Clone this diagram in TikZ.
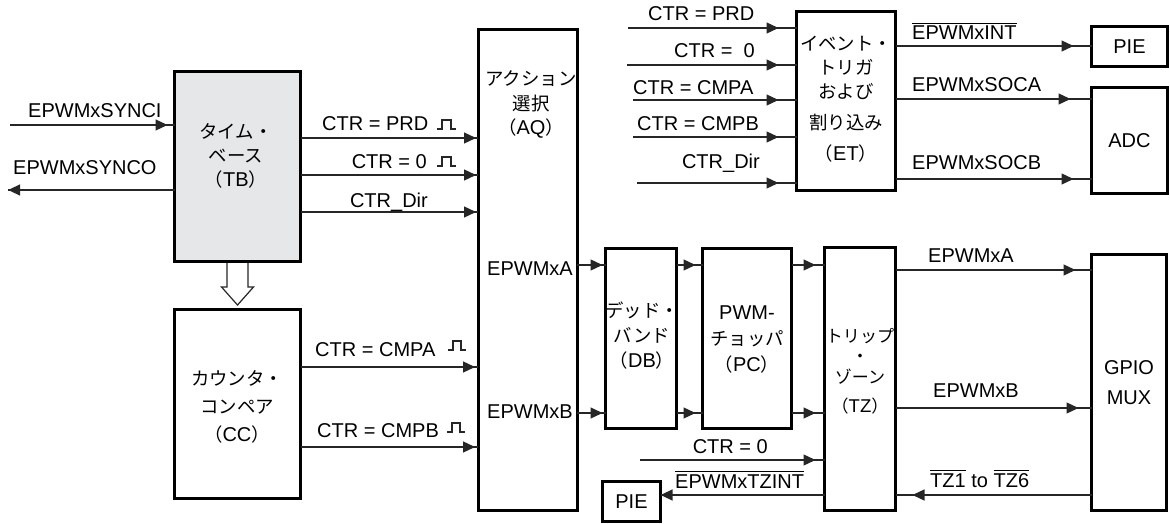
\documentclass[tikz,border=0pt]{standalone}
\usepackage{fontspec}
\setmainfont{Liberation Sans}
\newfontfamily\jp[Scale=0.92]{Noto Sans CJK JP}
\usetikzlibrary{arrows.meta,decorations.markings,calc}
\definecolor{tbgray}{HTML}{E6E7E8}
\newcommand\myovl[1]{\leavevmode\vbox{\hrule height 1pt\kern 2.5pt\hbox{#1}}}

\begin{document}
\begin{tikzpicture}[x=1pt,y=-1pt,
  box/.style={draw=black,line width=3pt,rectangle,inner sep=0pt,outer sep=0pt,font=\fontsize{20}{24}\selectfont},
  conn/.style={line width=1.3pt,draw=black!85},
  arr/.style={conn,postaction={decorate},decoration={markings,mark=at position -#1 with {\arrow{Triangle[length=12pt,width=11pt]}}}},
  arr/.default=1pt,
  lbl/.style={inner sep=0pt,font=\fontsize{20}{24}\selectfont},
  txt/.style={inner sep=0pt,align=center,font=\fontsize{20}{#1}\selectfont},
  pulse/.style={line width=1.2pt,draw=black!85},
]
\useasboundingbox (0,0) rectangle (1170,524);

% boxes
\node[box,fill=tbgray,minimum width=126,minimum height=190] (tb) at (237.5,166.5) {};
\node[box,minimum width=126,minimum height=189] (cc) at (237.5,404) {};
\node[box,minimum width=99,minimum height=481] (aq) at (527.5,270) {};
\node[box,minimum width=99,minimum height=179] (et) at (846,101) {};
\node[box,minimum width=76,minimum height=40] (pie1) at (1129.5,46.5) {PIE};
\node[box,minimum width=76,minimum height=106] (adc) at (1129.5,140.5) {ADC};
\node[box,minimum width=71,minimum height=180] (db) at (641,338.5) {};
\node[box,minimum width=89,minimum height=180] (pc) at (747,338.5) {};
\node[box,minimum width=71,minimum height=263] (tz) at (860,379) {};
\node[box,minimum width=58,minimum height=40] (pie2) at (631.5,501.5) {PIE};
\node[box,minimum width=75,minimum height=256] (gpio) at (1129,382.5) {};

% box texts
\node[txt=24] (tbt) at (236,156) {{\jp タイム・}\\{\jp ベース}\\{\jp （}TB{\jp ）}};
\node[txt=28] (cct) at (237,407) {{\jp カウンタ・}\\{\jp コンペア}\\{\jp （}CC{\jp ）}};
\node[txt=24.5] (aqt) at (531,104.5) {{\jp アクション}\\{\jp 選択}\\{\jp （}AQ{\jp ）}};
\node[txt=24] (ett) at (846,99) {{\jp イベント・}\\{\jp トリガ}\\{\jp および}\\[7pt]{\jp 割り込み}\\[7pt]{\jp （}ET{\jp ）}};
\node[txt=25] (dbt) at (642,336) {{\jp デッド・}\\{\jp バンド}\\{\jp （}DB{\jp ）}};
\node[txt=26] (pct) at (747,340) {PWM-\\{\jp チョッパ}\\{\jp （}PC{\jp ）}};
\node[txt=20.5,font=\fontsize{18.5}{20.5}\selectfont] (tzt) at (860,371) {{\jp トリップ}\\{\jp ・}\\{\jp ゾーン}\\[9pt]{\jp （}TZ{\jp ）}};
\node[txt=30] (gpiot) at (1129,383) {GPIO\\MUX};

% free ends
\coordinate (synci) at (10,125);
\coordinate (synco) at (8,190);
\coordinate (e1) at (628,28);
\coordinate (e2) at (627,65);
\coordinate (e3) at (633,100);
\coordinate (e4) at (633,137);
\coordinate (e5) at (637,183);
\coordinate (z0) at (640,460);

% connectors
\draw[arr=7pt] (synci) -- (tb.west |- synci);
\draw[arr=0.1pt] (tb.west |- synco) -- (synco);
\draw[arr=2pt] (tb.east |- 0,138) -- (aq.west |- 0,138);
\draw[arr=2pt] (tb.east |- 0,175) -- (aq.west |- 0,175);
\draw[arr=2pt] (tb.east |- 0,212) -- (aq.west |- 0,212);
\draw[arr=3pt] (cc.east |- 0,367) -- (aq.west |- 0,367);
\draw[arr=3pt] (cc.east |- 0,447) -- (aq.west |- 0,447);

\draw[arr=18pt] (e1) -- (et.west |- e1);
\draw[arr=18pt] (e2) -- (et.west |- e2);
\draw[arr=18pt] (e3) -- (et.west |- e3);
\draw[arr=18pt] (e4) -- (et.west |- e4);
\draw[arr=18pt] (e5) -- (et.west |- e5);
\draw[arr=18pt] (et.east |- 0,46) -- (pie1.west |- 0,46);
\draw[arr=21pt] (et.east |- 0,99) -- (adc.west |- 0,99);
\draw[arr=18pt] (et.east |- 0,179) -- (adc.west |- 0,179);

\draw[arr=3pt] (aq.east |- 0,265) -- (db.west |- 0,265);
\draw[arr=3pt] (aq.east |- 0,413) -- (db.west |- 0,413);
\draw[arr=7pt] (db.east |- 0,265) -- (pc.west |- 0,265);
\draw[arr=7pt] (db.east |- 0,413) -- (pc.west |- 0,413);
\draw[arr=9pt] (pc.east |- 0,265) -- (tz.west |- 0,265);
\draw[arr=9pt] (pc.east |- 0,413) -- (tz.west |- 0,413);
\draw[arr=9pt] (z0) -- (tz.west |- z0);
\draw[arr=0.1pt] (tz.west |- 0,495) -- (pie2.east |- 0,495);
\draw[arr=16pt] (tz.east |- 0,270) -- (gpio.west |- 0,270);
\draw[arr=13pt] (tz.east |- 0,408) -- (gpio.west |- 0,408);
\draw[arr=17pt] (gpio.west |- 0,495) -- (tz.east |- 0,495);

% hollow arrow TB -> CC
\path[fill=white,draw=black!85,line width=1.2pt]
  ($(tb.south)+(-10.5,1.5)$) -- ++(0,24) -- ++(-5.5,0) -- ($(cc.north)+(0,-4.5)$)
  -- ($(tb.south)+(16,25.5)$) -- ++(-5.5,0) -- ++(0,-24);

% labels
\node[lbl,anchor=base west] (lsynci) at (28,118) {EPWMxSYNCI};
\node[lbl,anchor=base west] (lsynco) at (13,175) {EPWMxSYNCO};
\node[lbl,anchor=base west] (lprd) at (322,131) {CTR = PRD};
\node[lbl,anchor=base east] (lz) at (427,168) {CTR = 0};
\node[lbl,anchor=base east] (ldir) at (428,207) {CTR\_Dir};
\node[lbl,anchor=base west] (lcmpa) at (315,356) {CTR = CMPA};
\node[lbl,anchor=base west] (lcmpb) at (317,437) {CTR = CMPB};

\node[lbl,anchor=base west] (le1) at (648,21) {CTR = PRD};
\node[lbl,anchor=base east] (le2) at (755,58) {CTR = \ 0};
\node[lbl,anchor=base west] (le3) at (633,95) {CTR = CMPA};
\node[lbl,anchor=base west] (le4) at (637,131) {CTR = CMPB};
\node[lbl,anchor=base east] (le5) at (760,168) {CTR\_Dir};
\node[lbl,anchor=base west] (lint) at (912,40) {\myovl{EPWMxINT}};
\node[lbl,anchor=base west] (lsoca) at (912,92) {EPWMxSOCA};
\node[lbl,anchor=base west] (lsocb) at (912,170) {EPWMxSOCB};

\node[lbl,anchor=base east] (laqa) at (573,275) {EPWMxA};
\node[lbl,anchor=base east] (laqb) at (573,418) {EPWMxB};
\node[lbl,anchor=base east] (lz0) at (768,453) {CTR = 0};
\node[lbl,anchor=base west] (ltzint) at (675,488) {\myovl{EPWMxTZINT}};
\node[lbl,anchor=base west] (lga) at (928,262) {EPWMxA};
\node[lbl,anchor=base west] (lgb) at (933,397) {EPWMxB};
\node[lbl,anchor=base west] (ltz) at (930,487) {\myovl{TZ1} to \myovl{TZ6}};

% pulse symbols
\draw[pulse] (437,129) -- ++(5,0) -- ++(0,-9) -- ++(9,0) -- ++(0,9) -- ++(5,0);
\draw[pulse] (437,166) -- ++(5,0) -- ++(0,-9) -- ++(9,0) -- ++(0,9) -- ++(5,0);
\draw[pulse] (448,350) -- ++(5,0) -- ++(0,-9) -- ++(8,0) -- ++(0,9) -- ++(5,0);
\draw[pulse] (447,432) -- ++(5,0) -- ++(0,-9) -- ++(8,0) -- ++(0,9) -- ++(5,0);
\end{tikzpicture}
\end{document}
